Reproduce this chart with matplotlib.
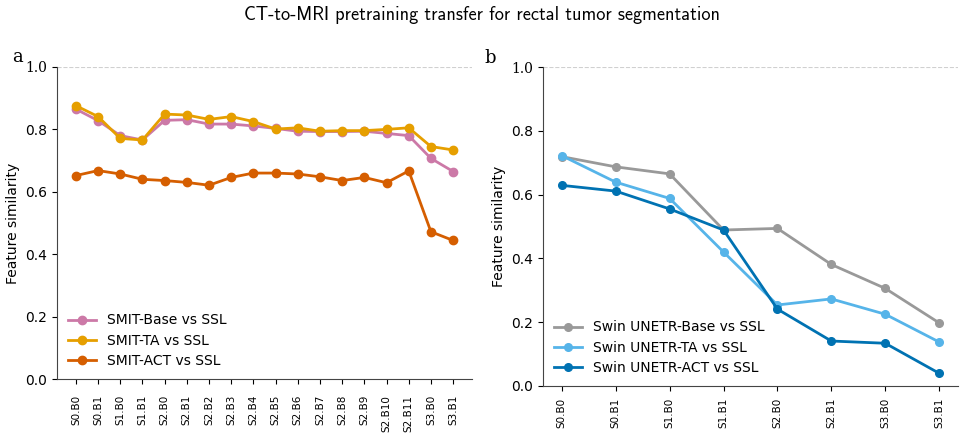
import matplotlib
matplotlib.use("Agg")
import matplotlib.pyplot as plt

# panel a: SMIT blocks
smit_blocks = ["S0.B0", "S0.B1", "S1.B0", "S1.B1", "S2.B0", "S2.B1", "S2.B2", "S2.B3",
               "S2.B4", "S2.B5", "S2.B6", "S2.B7", "S2.B8", "S2.B9", "S2.B10", "S2.B11",
               "S3.B0", "S3.B1"]
smit_base = [0.865, 0.828, 0.780, 0.766, 0.829, 0.831, 0.817, 0.817, 0.811, 0.803,
             0.794, 0.793, 0.793, 0.794, 0.787, 0.780, 0.707, 0.665]
smit_ta = [0.876, 0.841, 0.771, 0.766, 0.849, 0.846, 0.832, 0.841, 0.825, 0.801,
           0.805, 0.794, 0.796, 0.796, 0.800, 0.805, 0.745, 0.734]
smit_act = [0.652, 0.668, 0.657, 0.640, 0.636, 0.630, 0.621, 0.646, 0.660, 0.660,
            0.657, 0.648, 0.636, 0.646, 0.629, 0.667, 0.472, 0.444]

# panel b: Swin UNETR blocks
swin_blocks = ["S0.B0", "S0.B1", "S1.B0", "S1.B1", "S2.B0", "S2.B1", "S3.B0", "S3.B1"]
swin_base = [0.719, 0.687, 0.665, 0.489, 0.494, 0.381, 0.306, 0.198]
swin_ta = [0.722, 0.639, 0.588, 0.420, 0.254, 0.273, 0.225, 0.138]
swin_act = [0.629, 0.611, 0.555, 0.489, 0.241, 0.141, 0.134, 0.040]

yticks = [0.0, 0.2, 0.4, 0.6, 0.8, 1.0]

fig = plt.figure(figsize=(9.65, 4.34), dpi=100)
ax_a = fig.add_axes([0.0591, 0.1267, 0.430, 0.719])
ax_b = fig.add_axes([0.5627, 0.1106, 0.430, 0.735])


def style(ax, blocks, series, ms, xpad):
    x = range(len(blocks))
    for label, vals, color in series:
        ax.plot(x, vals, "-o", color=color, lw=2, ms=ms, label=label)
    ax.axhline(1.0, ls="--", lw=0.8, color="#d0d0d0", zorder=0)
    ax.set_ylim(0, 1.0)
    ax.set_yticks(yticks)
    ax.set_yticklabels([f"{t:.1f}" for t in yticks], fontsize=10)
    ax.get_yticklabels()[-1].set_family("DejaVu Serif")
    ax.set_xticks(list(x))
    ax.set_xticklabels(blocks, rotation=90, fontsize=7.5)
    ax.tick_params(axis="x", pad=xpad)
    ax.set_ylabel("Feature similarity", fontsize=10)
    ax.spines["top"].set_visible(False)
    ax.spines["right"].set_visible(False)
    for s in ["left", "bottom"]:
        ax.spines[s].set_color("#444444")
    ax.legend(loc="lower left", frameon=False, fontsize=10, borderaxespad=0.4,
              handlelength=2.0, labelspacing=0.45)


style(ax_a, smit_blocks, [("SMIT-Base vs SSL", smit_base, "#CC79A7"),
                          ("SMIT-TA vs SSL", smit_ta, "#E69F00"),
                          ("SMIT-ACT vs SSL", smit_act, "#D55E00")], 6, 8)
style(ax_b, swin_blocks, [("Swin UNETR-Base vs SSL", swin_base, "#999999"),
                          ("Swin UNETR-TA vs SSL", swin_ta, "#56B4E9"),
                          ("Swin UNETR-ACT vs SSL", swin_act, "#0072B2")], 5.5, 5)

fig.text(0.5, 0.965, "CT-to-MRI pretraining transfer for rectal tumor segmentation",
         ha="center", va="center", fontsize=13.2, family="cmss10")
fig.text(0.013, 0.868, "a", fontsize=13, family="DejaVu Serif", va="center")
fig.text(0.502, 0.866, "b", fontsize=13, family="DejaVu Serif", va="center")

fig.savefig("out.png", dpi=100)
